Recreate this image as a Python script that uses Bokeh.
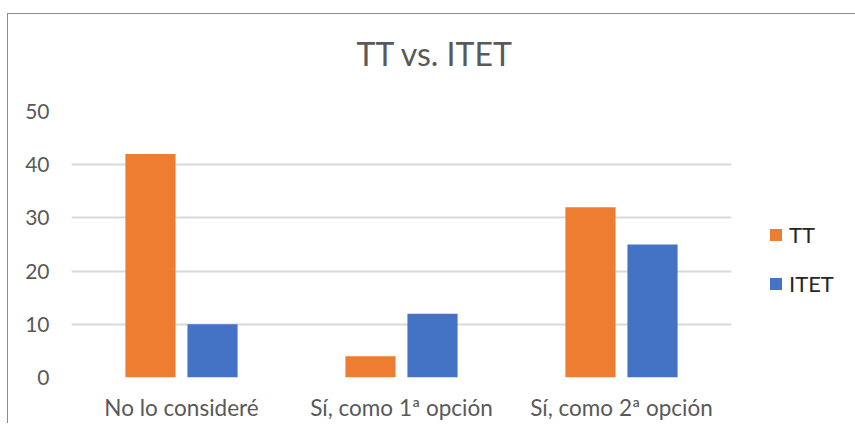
from bokeh.plotting import figure
from bokeh.models import FactorRange, Range1d, FixedTicker, Legend, LegendItem, Spacer, Title
from bokeh.layouts import column, row
from bokeh.transform import dodge
from bokeh.embed import file_html
from bokeh.resources import INLINE

categories = ["No lo consideré", "Sí, como 1ª opción", "Sí, como 2ª opción"]
tt_values = [42, 4, 32]
itet_values = [10, 12, 25]
y_ticks = [0, 10, 20, 30, 40, 50]
title_text = "TT vs. ITET"

FONT = "Lato"
GRAY = "#595959"

p = figure(
    x_range=FactorRange(*categories),
    y_range=Range1d(0, 50),
    frame_width=659, frame_height=265,
    min_border_left=63, min_border_right=118, min_border_top=97, min_border_bottom=47,
    output_backend="svg", toolbar_location=None,
)
p.styles = {"border-top": "1px solid #8c8c8c", "border-left": "1px solid #8c8c8c"}
p.outline_line_color = None

# main title (placed farther from the frame)
p.title.text = title_text
p.title.align = "left"
p.title.offset = 285
p.title.text_font = FONT
p.title.text_font_size = "32px"
p.title.text_font_style = "normal"
p.title.text_color = GRAY
p.title.standoff = 9

# blank spacer title nearest the frame
p.add_layout(Title(text=" ", text_font_size="1px", standoff=31), "above")

src = dict(cat=categories, tt=tt_values, itet=itet_values)
r_tt = p.vbar(x=dodge("cat", -0.141, range=p.x_range), top="tt", width=0.228,
              source=src, fill_color="#ED7D31", line_color=None)
r_it = p.vbar(x=dodge("cat", 0.141, range=p.x_range), top="itet", width=0.228,
              source=src, fill_color="#4472C4", line_color=None)

p.xgrid.grid_line_color = None
p.ygrid.grid_line_color = "#D9D9D9"
p.ygrid.grid_line_width = 2
p.yaxis.ticker = FixedTicker(ticks=y_ticks)

for ax in (p.xaxis[0], p.yaxis[0]):
    ax.axis_line_color = None
    ax.major_tick_line_color = None
    ax.minor_tick_line_color = None
    ax.major_label_text_font = FONT
    ax.major_label_text_color = GRAY
p.yaxis.major_label_text_font_size = "21px"
p.yaxis.major_label_standoff = 16
p.xaxis.major_label_text_font_size = "22.5px"
p.xaxis.major_label_standoff = 10

legend = Legend(
    items=[LegendItem(label="TT", renderers=[r_tt]), LegendItem(label="ITET", renderers=[r_it])],
    location=(37, 80),
    glyph_width=15, glyph_height=15, label_height=20, spacing=22,
    label_text_font=FONT, label_text_font_size="22px", label_text_color="#262626",
    border_line_color=None, background_fill_alpha=0, padding=0, margin=0,
    label_standoff=6,
)
p.add_layout(legend, "right")

layout = row(Spacer(width=7, height=10), column(Spacer(height=13, width=10), p, spacing=0), spacing=0)
open("out.html", "w").write(file_html(layout, INLINE))
